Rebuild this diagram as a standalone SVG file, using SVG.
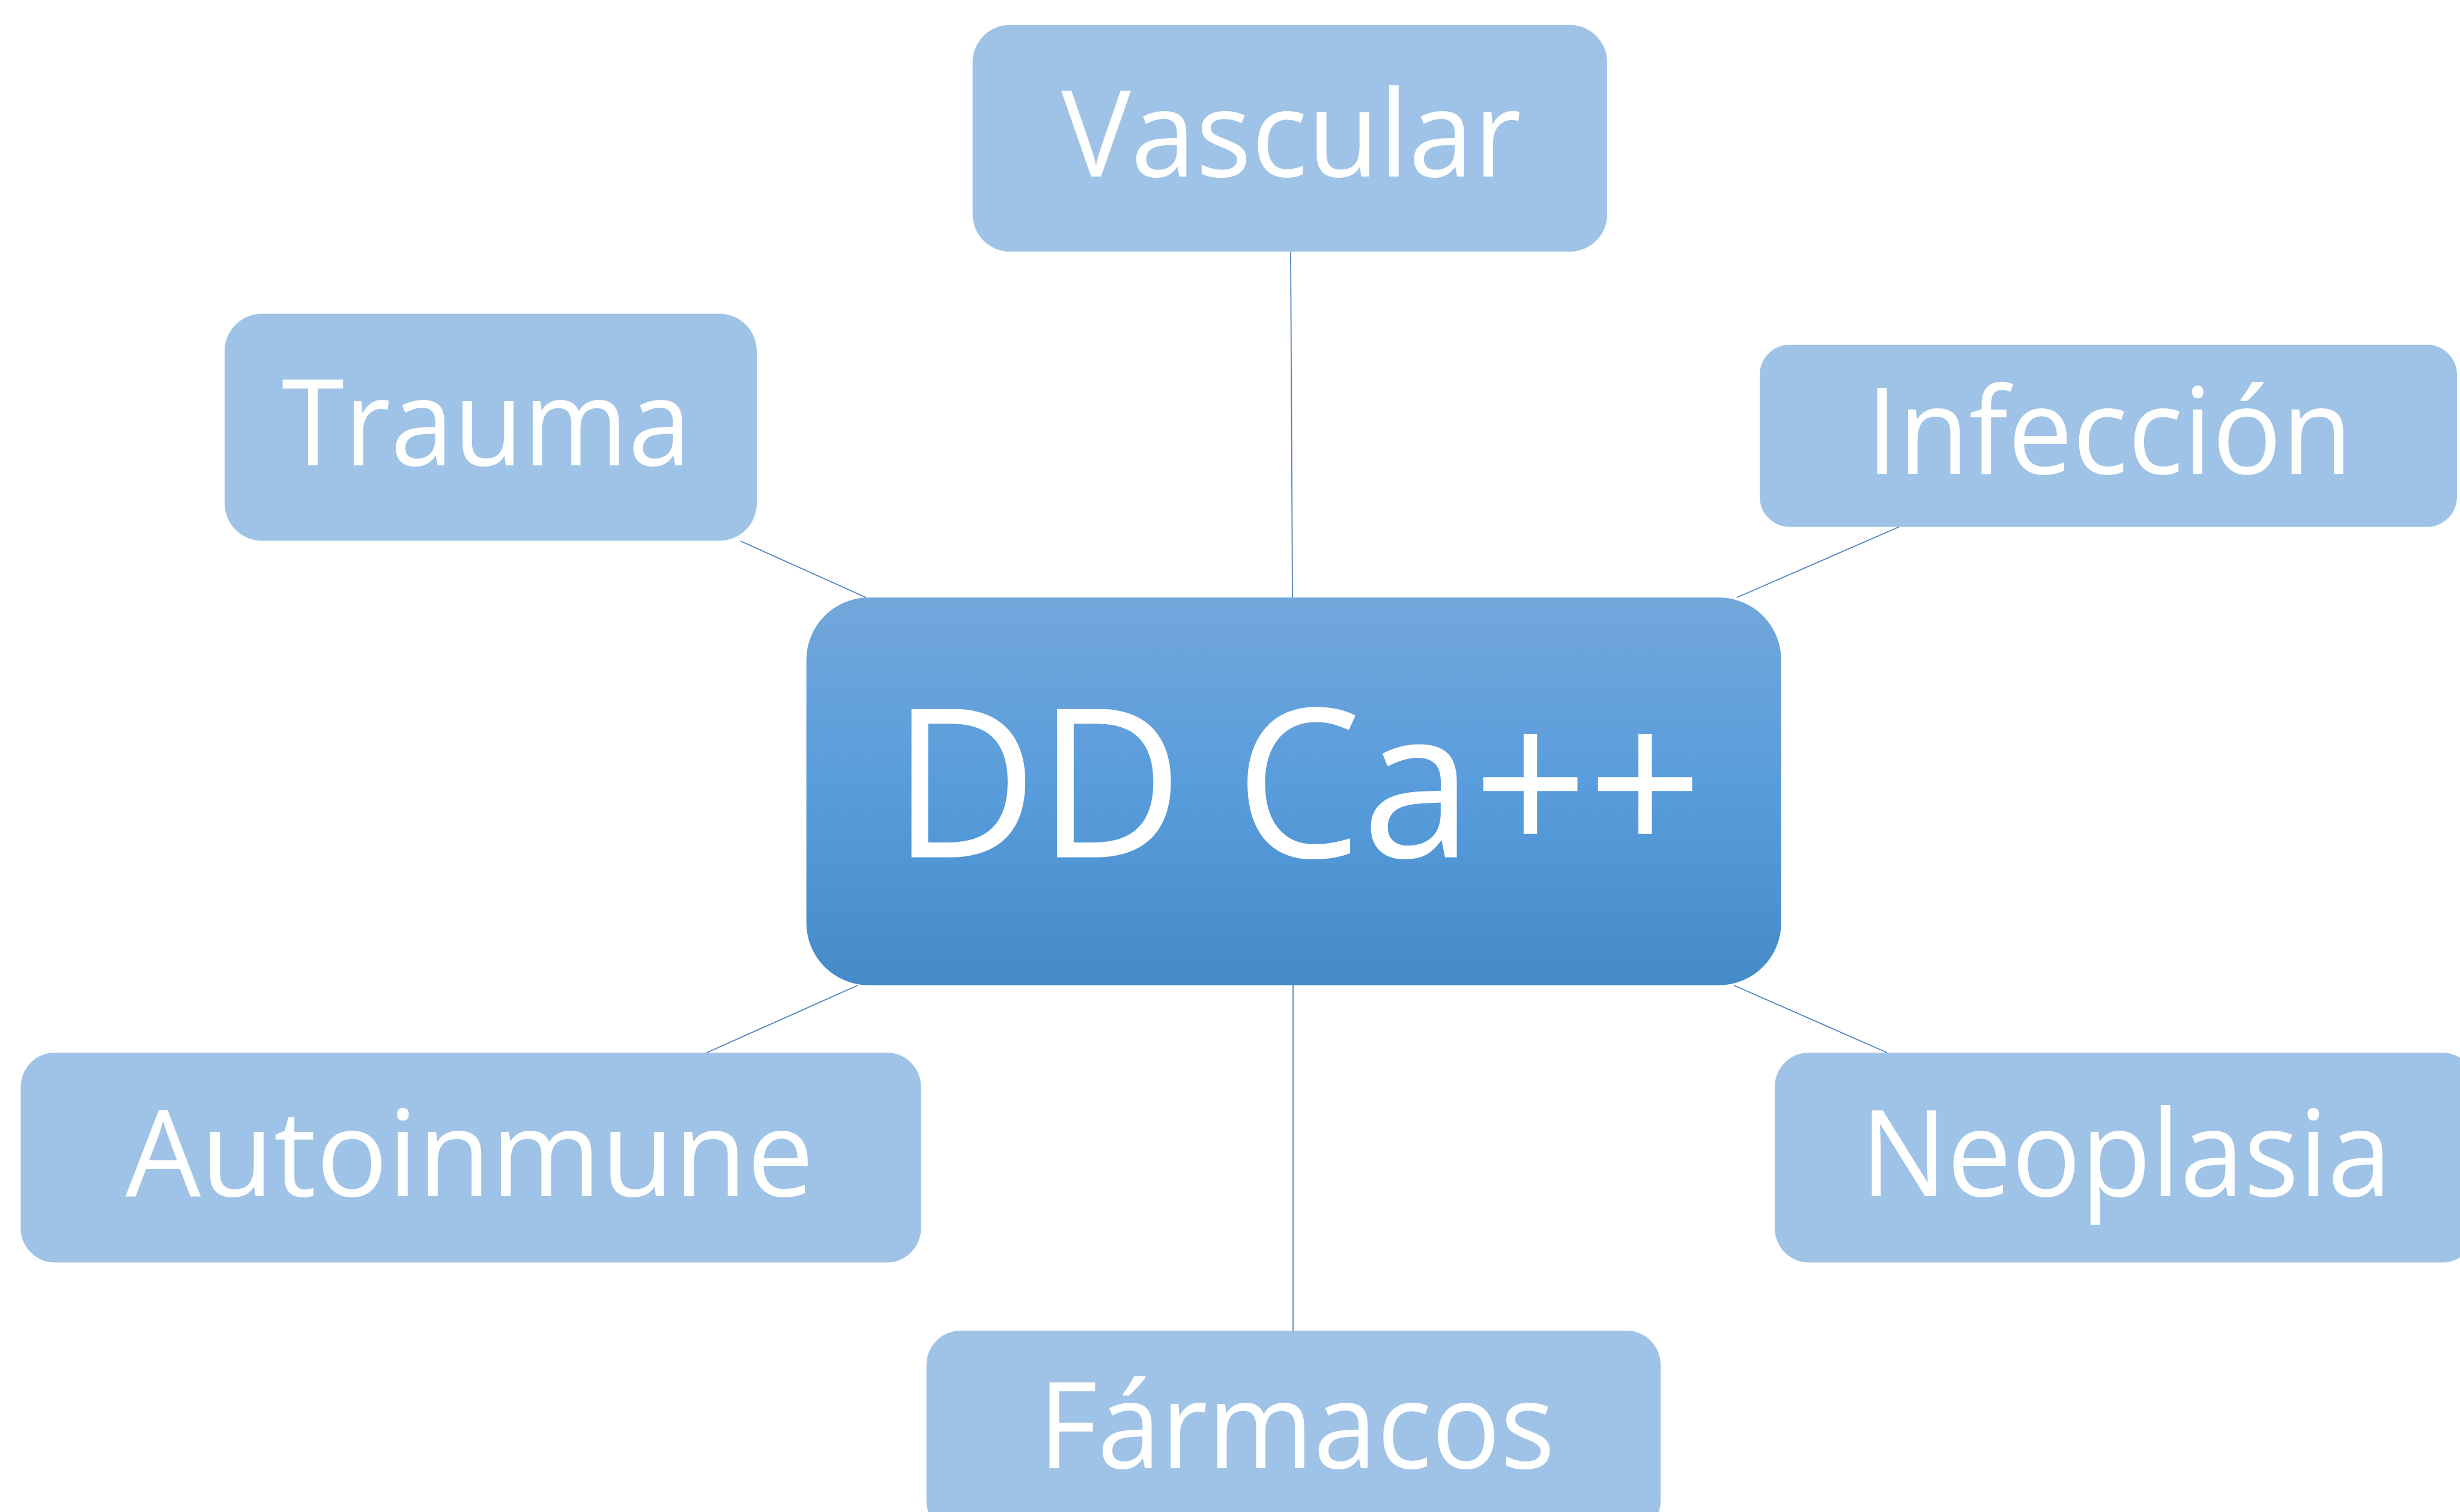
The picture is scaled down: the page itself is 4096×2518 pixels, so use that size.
<svg xmlns="http://www.w3.org/2000/svg" width="4096" height="2518" viewBox="0 0 4096 2518">
<defs>
<linearGradient id="g" x1="0" y1="0" x2="0" y2="1">
<stop offset="0" stop-color="#72A7DB"/>
<stop offset="0.5" stop-color="#589CDC"/>
<stop offset="1" stop-color="#448AC8"/>
</linearGradient>
<style>
.n{fill:#9FC3E6}
.t{font-family:"Open Sans","Liberation Sans",sans-serif;fill:#FFFFFF;font-size:200px;text-anchor:middle}
.c{stroke:#4F81BD;stroke-width:1.8;fill:none}
</style>
</defs>
<rect width="4096" height="2518" fill="#FFFFFF"/>
<g id="connectors">
<line class="c" x1="2149" y1="419" x2="2152" y2="995"/>
<line class="c" x1="1233" y1="901" x2="1442" y2="995"/>
<line class="c" x1="3163" y1="877" x2="2892" y2="995"/>
<line class="c" x1="1177" y1="1753" x2="1428" y2="1641"/>
<line class="c" x1="3142" y1="1753" x2="2887" y2="1641"/>
<line class="c" x1="2153" y1="1641" x2="2153" y2="2216"/>
</g>
<g id="vascular">
<rect class="n" x="1619.5" y="41.5" width="1056.5" height="377.5" rx="62" ry="62"/>
<text class="t" x="2150" y="294.4" textLength="766" lengthAdjust="spacingAndGlyphs">Vascular</text>
</g>
<g id="trauma">
<rect class="n" x="374" y="522.5" width="886" height="378" rx="62" ry="62"/>
<text class="t" x="810" y="775.3" textLength="682" lengthAdjust="spacingAndGlyphs">Trauma</text>
</g>
<g id="infeccion">
<rect class="n" x="2930" y="574" width="1161" height="303.5" rx="50" ry="50"/>
<text class="t" x="3512" y="789.4" textLength="810" lengthAdjust="spacingAndGlyphs">Infección</text>
</g>
<g id="ddca">
<rect x="1342.6" y="995" width="1623.2" height="645.7" rx="104" ry="104" fill="url(#g)"/>
<text class="t" x="2160" y="1427.7" style="font-size:346px" textLength="1350" lengthAdjust="spacingAndGlyphs">DD Ca++</text>
</g>
<g id="autoinmune">
<rect class="n" x="34.5" y="1753" width="1499" height="349.5" rx="57" ry="57"/>
<text class="t" x="782" y="1991.7" textLength="1146" lengthAdjust="spacingAndGlyphs">Autoinmune</text>
</g>
<g id="neoplasia">
<rect class="n" x="2955" y="1753" width="1168" height="349.5" rx="57" ry="57"/>
<text class="t" x="3540" y="1991.7" textLength="884" lengthAdjust="spacingAndGlyphs">Neoplasia</text>
</g>
<g id="farmacos">
<rect class="n" x="1542.6" y="2216" width="1222.4" height="341" rx="57" ry="57"/>
<text class="t" x="2159" y="2445" textLength="860" lengthAdjust="spacingAndGlyphs">Fármacos</text>
</g>
</svg>
